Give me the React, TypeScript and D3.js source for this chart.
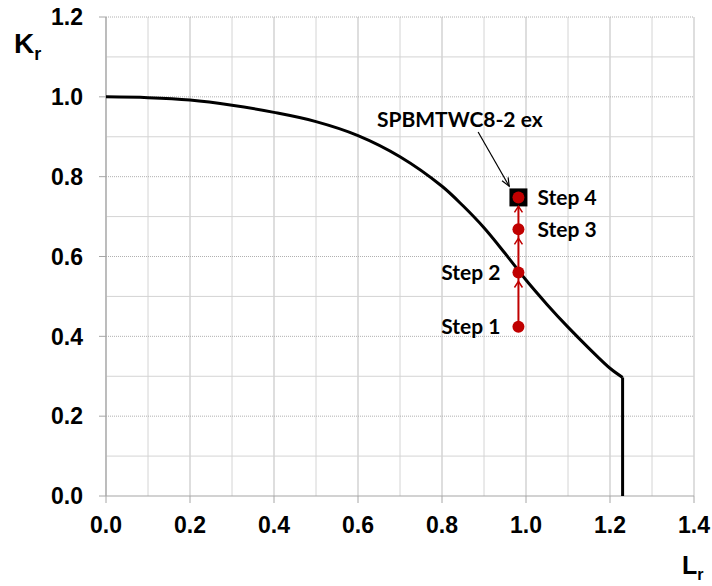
import React from 'react';
import * as d3 from 'd3';

// failure assessment curve
const curveLr = [0, 0.1, 0.2, 0.3, 0.4, 0.5, 0.6, 0.7, 0.8, 0.85, 0.9, 0.95, 1.0, 1.05, 1.1, 1.15, 1.2, 1.23];
const curveKr = [1.0, 0.998, 0.992, 0.979, 0.961, 0.938, 0.903, 0.85, 0.776, 0.727, 0.672, 0.608, 0.541, 0.48, 0.423, 0.37, 0.32, 0.297];
const cutoffLr = 1.23;

// assessment steps
const stepNames = ['Step 1', 'Step 2', 'Step 3', 'Step 4'];
const stepLr = [0.982, 0.982, 0.982, 0.982];
const stepKr = [0.424, 0.56, 0.668, 0.748];

const xTicks = [0, 0.2, 0.4, 0.6, 0.8, 1.0, 1.2, 1.4];
const yTicks = [0, 0.2, 0.4, 0.6, 0.8, 1.0, 1.2];
const gridSteps = d3.range(0, 15).map((i) => i / 10);

const specimen = 'SPBMTWC8-2 ex';

const width = 712;
const height = 586;
const margin = { top: 17, right: 18, bottom: 90, left: 106 };

const red = '#c00000';

export default function App() {
  const x = d3.scaleLinear().domain([0, 1.4]).range([margin.left, width - margin.right]);
  const y = d3.scaleLinear().domain([0, 1.2]).range([height - margin.bottom, margin.top]);

  const pts: [number, number][] = curveLr.map((l, i) => [l, curveKr[i]]);
  const smooth = d3
    .line<[number, number]>()
    .x((d) => x(d[0]))
    .y((d) => y(d[1]))
    .curve(d3.curveCatmullRom.alpha(0.5))(pts);
  const drop = `M${x(cutoffLr)},${y(curveKr[curveKr.length - 1])}L${x(cutoffLr)},${y(0)}`;

  const tickFont = { fontFamily: '"Liberation Sans", Arial, sans-serif', fontWeight: 700, fontSize: 23 };
  const noteFont = { fontFamily: 'Lato, "Open Sans", sans-serif', fontWeight: 700, fontSize: 21 };

  const sx = x(stepLr[0]);
  const last = stepKr.length - 1;

  // annotation arrow for the specimen label
  const arrowFrom: [number, number] = [0.886, 0.912];
  const arrowTo: [number, number] = [0.96, 0.776];
  const ax0 = x(arrowFrom[0]);
  const ay0 = y(arrowFrom[1]);
  const ax1 = x(arrowTo[0]);
  const ay1 = y(arrowTo[1]);
  const ang = Math.atan2(ay1 - ay0, ax1 - ax0);
  const head = (a: number) => `${ax1 - 9 * Math.cos(ang + a)},${ay1 - 9 * Math.sin(ang + a)}`;

  return (
    <svg width={width} height={height} style={{ position: 'absolute', left: 0, top: 0, background: '#fff' }}>
      {/* grid */}
      {gridSteps.map((v, i) => (
        <line
          key={'v' + i}
          x1={x(v)}
          x2={x(v)}
          y1={y(0)}
          y2={y(1.2)}
          stroke={i % 2 === 0 ? '#bdbdbd' : '#d4d4d4'}
          strokeWidth={1}
        />
      ))}
      {gridSteps.slice(0, 13).map((v, i) =>
        i === 0 ? null : (
          <line
            key={'h' + i}
            x1={x(0)}
            x2={x(1.4)}
            y1={y(v)}
            y2={y(v)}
            stroke={i % 2 === 0 ? '#b0b0b0' : '#d4d4d4'}
            strokeWidth={1}
            strokeDasharray={i % 2 === 0 ? '1,1' : undefined}
          />
        )
      )}
      {/* axes */}
      <line x1={x(0)} x2={x(0)} y1={y(0)} y2={y(1.2)} stroke="#a6a6a6" strokeWidth={1.2} />
      <line x1={x(0)} x2={x(1.4)} y1={y(0)} y2={y(0)} stroke="#a6a6a6" strokeWidth={1.2} />
      {yTicks.map((t) => (
        <g key={'yt' + t}>
          <line x1={x(0) - 7} x2={x(0)} y1={y(t)} y2={y(t)} stroke="#a6a6a6" />
          <text x={x(0) - 23} y={y(t)} dy="0.36em" textAnchor="end" style={tickFont}>
            {t.toFixed(1)}
          </text>
        </g>
      ))}
      {xTicks.map((t) => (
        <g key={'xt' + t}>
          <line x1={x(t)} x2={x(t)} y1={y(0)} y2={y(0) + 7} stroke="#a6a6a6" />
          <text x={x(t)} y={y(0) + 29} dy="0.36em" textAnchor="middle" style={tickFont}>
            {t.toFixed(1)}
          </text>
        </g>
      ))}
      {/* axis titles */}
      <text x={14} y={53} style={{ ...tickFont, fontSize: 28 }}>
        K<tspan dy={7} style={{ fontSize: 18 }}>r</tspan>
      </text>
      <text x={682} y={574} style={{ ...tickFont, fontSize: 25 }}>
        L<tspan dy={6} style={{ fontSize: 16 }}>r</tspan>
      </text>

      {/* FAD curve */}
      <path d={smooth || ''} fill="none" stroke="#000" strokeWidth={3} />
      <path d={drop} fill="none" stroke="#000" strokeWidth={3} />

      {/* steps */}
      <line x1={sx} x2={sx} y1={y(stepKr[0])} y2={y(stepKr[last])} stroke={red} strokeWidth={2} />
      <rect x={sx - 9} y={y(stepKr[last]) - 9} width={18} height={18} fill="#000" />
      {stepKr.map((k, i) =>
        i === 0 ? null : (
          <path
            key={'ch' + i}
            d={`M${sx - 4},${y(k) + 15}L${sx},${y(k) + 9}L${sx + 4},${y(k) + 15}`}
            fill="none"
            stroke={red}
            strokeWidth={1.5}
          />
        )
      )}
      {stepKr.map((k, i) => (
        <circle key={'s' + i} cx={sx} cy={y(k)} r={6} fill={red} />
      ))}
      {stepKr.map((k, i) => (
        <text
          key={'sl' + i}
          x={i < 2 ? sx - 18 : sx + 19}
          y={y(k)}
          dy="0.35em"
          textAnchor={i < 2 ? 'end' : 'start'}
          style={noteFont}
        >
          {stepNames[i]}
        </text>
      ))}

      {/* specimen label */}
      <text x={x(0.645)} y={y(0.925)} style={noteFont}>
        {specimen}
      </text>
      <line x1={ax0} y1={ay0} x2={ax1} y2={ay1} stroke="#000" strokeWidth={1.2} />
      <path d={`M${head(0.4)}L${ax1},${ay1}L${head(-0.4)}`} fill="none" stroke="#000" strokeWidth={1.2} />
    </svg>
  );
}
